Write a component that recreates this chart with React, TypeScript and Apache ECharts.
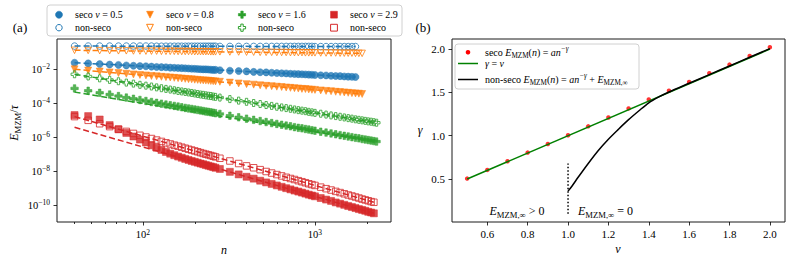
import React, { useEffect, useRef } from 'react';
import * as echarts from 'echarts';

const FF = 'Liberation Serif';
const BLUE = '#1f77b4';
const ORANGE = '#ff7f0e';
const GREEN = '#2ca02c';
const RED = '#d62728';

// ---------- panel (a): system sizes n ----------
const nValues = [40, 48, 56, 64, 72, 80, 88, 96, 104, 112, 120, 128, 136, 144, 152, 160, 168, 176, 184, 192,
  200, 208, 216, 224, 232, 240, 248, 256, 264, 280, 320, 360, 400, 440, 480, 520, 560, 600, 640, 680,
  720, 760, 800, 840, 880, 920, 960, 1000, 1080, 1160, 1240, 1320, 1400, 1480, 1560, 1640, 1720, 1800, 1880, 1960,
  2040, 2120, 2200, 2280];

// log10(E_MZM / tau)
const secoNu05 = [-1.63, -1.67, -1.71, -1.74, -1.76, -1.79, -1.81, -1.83, -1.84, -1.86,
  -1.88, -1.89, -1.90, -1.92, -1.93, -1.94, -1.95, -1.96, -1.97, -1.98,
  -1.99, -2.00, -2.01, -2.02, -2.02, -2.03, -2.04, -2.05, -2.05, -2.07,
  -2.10, -2.12, -2.14, -2.17, -2.19, -2.20, -2.22, -2.24, -2.25, -2.26,
  -2.28, -2.29, -2.30, -2.31, -2.32, -2.33, -2.34, -2.35, -2.37, -2.38,
  -2.40, -2.41, -2.42, -2.44, -2.45, -2.46, -2.47];
const nonSecoNu05 = [-0.65, -0.65, -0.65, -0.65, -0.65, -0.65, -0.65, -0.65, -0.65, -0.65,
  -0.66, -0.66, -0.66, -0.66, -0.66, -0.66, -0.66, -0.66, -0.66, -0.66,
  -0.66, -0.66, -0.66, -0.66, -0.66, -0.66, -0.66, -0.66, -0.66, -0.67,
  -0.67, -0.67, -0.67, -0.67, -0.67, -0.67, -0.67, -0.67, -0.67, -0.67,
  -0.67, -0.67, -0.67, -0.67, -0.67, -0.67, -0.67, -0.68, -0.68, -0.68,
  -0.68, -0.68, -0.68, -0.68, -0.68, -0.68, -0.68];
const secoNu08 = [-2.02, -2.09, -2.15, -2.20, -2.24, -2.28, -2.32, -2.35, -2.38, -2.41,
  -2.43, -2.46, -2.48, -2.50, -2.52, -2.54, -2.56, -2.58, -2.60, -2.61,
  -2.63, -2.64, -2.66, -2.67, -2.68, -2.69, -2.71, -2.72, -2.73, -2.75,
  -2.80, -2.85, -2.89, -2.92, -2.96, -2.99, -3.01, -3.04, -3.06, -3.09,
  -3.11, -3.13, -3.15, -3.17, -3.18, -3.20, -3.22, -3.23, -3.26, -3.29,
  -3.31, -3.34, -3.36, -3.38, -3.40, -3.42, -3.44, -3.45, -3.47];
const nonSecoNu08 = [-0.90, -0.91, -0.92, -0.92, -0.93, -0.93, -0.94, -0.94, -0.95, -0.95,
  -0.95, -0.96, -0.96, -0.96, -0.96, -0.97, -0.97, -0.97, -0.97, -0.97,
  -0.98, -0.98, -0.98, -0.98, -0.98, -0.98, -0.99, -0.99, -0.99, -0.99,
  -1.00, -1.00, -1.01, -1.01, -1.02, -1.02, -1.02, -1.03, -1.03, -1.03,
  -1.04, -1.04, -1.04, -1.04, -1.05, -1.05, -1.05, -1.05, -1.06, -1.06,
  -1.06, -1.06, -1.07, -1.07, -1.07, -1.07, -1.08, -1.08, -1.08];
const secoNu16 = [-3.14, -3.28, -3.40, -3.50, -3.59, -3.68, -3.75, -3.82, -3.88, -3.94,
  -3.99, -4.04, -4.09, -4.13, -4.17, -4.21, -4.25, -4.29, -4.32, -4.35,
  -4.38, -4.41, -4.44, -4.47, -4.50, -4.52, -4.55, -4.57, -4.60, -4.64,
  -4.75, -4.84, -4.92, -4.99, -5.06, -5.12, -5.18, -5.23, -5.28, -5.33,
  -5.37, -5.42, -5.46, -5.49, -5.53, -5.56, -5.60, -5.63, -5.69, -5.74,
  -5.79, -5.84, -5.89, -5.93, -5.97, -6.01, -6.05, -6.08, -6.12, -6.15,
  -6.18, -6.21, -6.24, -6.27];
const nonSecoNu16 = [-2.31, -2.44, -2.55, -2.64, -2.72, -2.80, -2.86, -2.93, -2.98, -3.03,
  -3.08, -3.13, -3.17, -3.21, -3.25, -3.29, -3.32, -3.35, -3.38, -3.41,
  -3.44, -3.47, -3.50, -3.52, -3.55, -3.57, -3.59, -3.62, -3.64, -3.68,
  -3.77, -3.86, -3.93, -4.00, -4.06, -4.12, -4.17, -4.22, -4.26, -4.30,
  -4.34, -4.38, -4.42, -4.45, -4.48, -4.52, -4.55, -4.58, -4.63, -4.68,
  -4.73, -4.77, -4.81, -4.85, -4.89, -4.92, -4.96, -4.99, -5.02, -5.05,
  -5.08, -5.10, -5.13, -5.16];
const secoNu29 = [-4.71, -4.77, -4.97, -5.30, -5.55, -5.76, -5.97, -6.15, -6.32, -6.49,
  -6.63, -6.76, -6.88, -6.98, -7.07, -7.15, -7.22, -7.29, -7.35, -7.41,
  -7.46, -7.51, -7.56, -7.60, -7.65, -7.69, -7.73, -7.77, -7.81, -7.88,
  -8.05, -8.20, -8.34, -8.45, -8.57, -8.67, -8.76, -8.85, -8.93, -9.01,
  -9.08, -9.15, -9.21, -9.27, -9.33, -9.39, -9.44, -9.49, -9.59, -9.68,
  -9.76, -9.85, -9.92, -9.99, -10.06, -10.12, -10.18, -10.24, -10.29, -10.34,
  -10.40, -10.44, -10.49];
const nonSecoNu29 = [-4.80, -5.02, -5.22, -5.39, -5.54, -5.67, -5.79, -5.90, -6.00, -6.09,
  -6.18, -6.26, -6.34, -6.41, -6.48, -6.54, -6.60, -6.66, -6.72, -6.77,
  -6.82, -6.87, -6.92, -6.97, -7.01, -7.05, -7.09, -7.13, -7.17, -7.25,
  -7.41, -7.56, -7.70, -7.81, -7.92, -8.03, -8.12, -8.21, -8.29, -8.37,
  -8.44, -8.50, -8.57, -8.63, -8.69, -8.75, -8.80, -8.85, -8.95, -9.04,
  -9.12, -9.20, -9.27, -9.34, -9.41, -9.47, -9.53, -9.59, -9.65, -9.70,
  -9.75, -9.80, -9.84];

// dashed fits: [n, log10(E/tau)] end points
const fitSeco05 = [[40, -1.63], [1720, -2.47]];
const fitNonSeco05 = [[40, -0.65], [1720, -0.68]];
const fitSeco08 = [[40, -2.02], [1880, -3.47]];
const fitNonSeco08 = [[40, -0.90], [1880, -1.08]];
const fitSeco16 = [[40, -3.36], [2280, -6.29]];
const fitNonSeco16 = [[40, -2.31], [2280, -5.16]];
const fitSeco29 = [[40, -5.43], [2200, -10.49]];
const fitNonSeco29 = [[40, -4.80], [2200, -9.84]];

const xMajorN = [100, 1000];
const xMinorN = [40, 50, 60, 70, 80, 90, 200, 300, 400, 500, 600, 700, 800, 900, 2000];
const yMajorExp = [-10, -8, -6, -4, -2];

// ---------- panel (b) ----------
const nuValues = [0.5, 0.6, 0.7, 0.8, 0.9, 1.0, 1.1, 1.2, 1.3, 1.4, 1.5, 1.6, 1.7, 1.8, 1.9, 2.0];
const gammaSeco = [0.505, 0.605, 0.705, 0.805, 0.905, 1.005, 1.108, 1.21, 1.315, 1.418, 1.518, 1.62, 1.72, 1.82, 1.92, 2.02];
const identityNu = [0.5, 2.0];
const nuNonSeco = [1.0, 1.02, 1.05, 1.1, 1.15, 1.2, 1.25, 1.3, 1.35, 1.4, 1.45, 1.5, 1.6, 1.7, 1.8, 1.9, 2.0];
const gammaNonSeco = [0.36, 0.42, 0.52, 0.68, 0.83, 0.96, 1.075, 1.185, 1.285, 1.38, 1.448, 1.505, 1.605, 1.705, 1.805, 1.905, 2.005];
const dividerNu = 1.0;
const dividerGamma = [0.1, 0.68];
const nuTicks = [0.6, 0.8, 1.0, 1.2, 1.4, 1.6, 1.8, 2.0];
const gammaTicks = [0.5, 1.0, 1.5, 2.0];

const PLUS = 'path://M1,0L2,0L2,1L3,1L3,2L2,2L2,3L1,3L1,2L0,2L0,1L1,1Z';

const tok = (size: number, extra: any = {}) => ({ fontFamily: FF, fontSize: size, color: '#000', fill: '#000', ...extra });

const tickRich = {
  b: tok(10.5, { lineHeight: 13 }),
  p: tok(7.5, { lineHeight: 7.5, verticalAlign: 'top' }),
};

const textRich = (s: number) => ({
  r: tok(s, { lineHeight: s + 4 }),
  i: tok(s, { lineHeight: s + 4, fontStyle: 'italic' }),
  sb: tok(s * 0.72, { lineHeight: s * 0.72, verticalAlign: 'bottom' }),
  sp: tok(s * 0.72, { lineHeight: s * 0.72, verticalAlign: 'top', fontStyle: 'italic' }),
});

function toXY(vals: number[]) {
  return vals.map((y, i) => [Math.log10(nValues[i]), y]);
}
function fitXY(f: number[][]) {
  return f.map(([n, y]) => [Math.log10(n), y]);
}

function markers(vals: number[], symbol: string, color: string, filled: boolean, size: number, rotate = 0) {
  return {
    type: 'scatter', xAxisIndex: 0, yAxisIndex: 0, silent: true,
    data: toXY(vals), symbol, symbolSize: size, symbolRotate: rotate,
    itemStyle: filled
      ? { color, borderColor: color, borderWidth: 0.6 }
      : { color: 'rgba(0,0,0,0)', borderColor: color, borderWidth: 1 },
  };
}
function dashed(f: number[][], color: string) {
  return {
    type: 'line', xAxisIndex: 0, yAxisIndex: 0, silent: true, data: fitXY(f), symbol: 'none',
    lineStyle: { color, width: 1.5, type: [6, 3] },
  };
}

function txt(x: number, y: number, text: string, size: number, align = 'left', rotation = 0) {
  return {
    type: 'text', x, y, rotation, silent: true,
    style: { text, rich: textRich(size), align, verticalAlign: 'middle', fill: '#000', fontFamily: FF, fontSize: size },
  };
}

function legendSymbol(kind: string, cx: number, cy: number, color: string, filled: boolean) {
  const st = filled ? { fill: color, stroke: color, lineWidth: 0.6 } : { fill: 'rgba(0,0,0,0)', stroke: color, lineWidth: 1 };
  const h = 3.4;
  if (kind === 'circle') return { type: 'circle', shape: { cx, cy, r: filled ? 3.5 : 3.2 }, style: st, silent: true };
  if (kind === 'tri') return { type: 'polygon', shape: { points: [[cx - h, cy - h], [cx + h, cy - h], [cx, cy + h]] }, style: st, silent: true };
  if (kind === 'rect') return { type: 'rect', shape: { x: cx - h, y: cy - h, width: 2 * h, height: 2 * h }, style: st, silent: true };
  const a = 3.6, b = 1.2;
  return {
    type: 'polygon', silent: true, style: st,
    shape: { points: [[cx - b, cy - a], [cx + b, cy - a], [cx + b, cy - b], [cx + a, cy - b], [cx + a, cy + b], [cx + b, cy + b], [cx + b, cy + a], [cx - b, cy + a], [cx - b, cy + b], [cx - a, cy + b], [cx - a, cy - b], [cx - b, cy - b]] },
  };
}

export default function App() {
  const ref = useRef<HTMLDivElement>(null);
  useEffect(() => {
    if (!ref.current) return;
    const chart = echarts.init(ref.current, undefined, { renderer: 'svg' });
    const axisCommon = {
      type: 'value', axisLine: { show: false }, splitLine: { show: false },
    };
    const tickStyle = { lineStyle: { color: '#000', width: 0.8 } };

    const legA = [
      { kind: 'circle', color: BLUE, label: '0.5', x: 59 },
      { kind: 'tri', color: ORANGE, label: '0.8', x: 150 },
      { kind: 'plus', color: GREEN, label: '1.6', x: 242 },
      { kind: 'rect', color: RED, label: '2.9', x: 334 },
    ];
    const graphic: any[] = [
      { type: 'rect', shape: { x: 47, y: 5, width: 355, height: 31, r: 3 }, style: { fill: 'rgba(255,255,255,0.85)', stroke: '#d0d0d0', lineWidth: 1 }, silent: true },
      { type: 'rect', shape: { x: 455, y: 44, width: 184, height: 45, r: 3 }, style: { fill: 'rgba(255,255,255,0.85)', stroke: '#d0d0d0', lineWidth: 1 }, silent: true },
    ];
    legA.forEach((it) => {
      graphic.push(legendSymbol(it.kind, it.x, 14.7, it.color, true));
      graphic.push(legendSymbol(it.kind, it.x, 27.7, it.color, false));
      graphic.push(txt(it.x + 16, 14.7, `{r|seco }{i|ν}{r| = ${it.label}}`, 10));
      graphic.push(txt(it.x + 16, 27.7, '{r|non-seco}', 10));
    });
    graphic.push({ type: 'circle', shape: { cx: 468, cy: 52.3, r: 2.3 }, style: { fill: '#ff0000' }, silent: true });
    graphic.push({ type: 'line', shape: { x1: 458, y1: 63.5, x2: 478, y2: 63.5 }, style: { stroke: '#008000', lineWidth: 1.5 }, silent: true });
    graphic.push({ type: 'line', shape: { x1: 458, y1: 79.5, x2: 478, y2: 79.5 }, style: { stroke: '#000', lineWidth: 1.5 }, silent: true });
    graphic.push(txt(485, 52.3, '{r|seco }{i|E}{sb|MZM}{r|(}{i|n}{r|) = }{i|an}{sp|−γ}', 10));
    graphic.push(txt(485, 63.5, '{i|γ}{r| = }{i|ν}', 10));
    graphic.push(txt(485, 79.5, '{r|non-seco }{i|E}{sb|MZM}{r|(}{i|n}{r|) = }{i|an}{sp|−γ}{r| + }{i|E}{sb|MZM,∞}', 10));

    graphic.push(txt(20, 27, '{r|(a)}', 13, 'center'));
    graphic.push(txt(423, 27, '{r|(b)}', 13, 'center'));
    graphic.push(txt(224, 250, '{i|n}', 12, 'center'));
    graphic.push(txt(618, 249, '{i|ν}', 12, 'center'));
    graphic.push(txt(420, 130, '{i|γ}', 12, 'center'));
    graphic.push(txt(14, 123, '{i|E}{sb|MZM}{r|/}{i|τ}', 12, 'center', Math.PI / 2));
    graphic.push(txt(517, 211, '{i|E}{sb|MZM,∞}{r| > 0}', 12, 'center'));
    graphic.push(txt(578, 211, '{i|E}{sb|MZM,∞}{r| = 0}', 12, 'left'));

    const option: any = {
      animation: false,
      backgroundColor: '#fff',
      textStyle: { fontFamily: FF },
      grid: [
        { left: 57, top: 39, width: 334, height: 183, show: true, borderColor: '#1a1a1a', borderWidth: 1 },
        { left: 452, top: 39, width: 333, height: 183, show: true, borderColor: '#1a1a1a', borderWidth: 1 },
      ],
      xAxis: [
        {
          ...axisCommon, gridIndex: 0, min: 1.5, max: 3.442, position: 'bottom',
          axisTick: { customValues: xMajorN.map(Math.log10), length: 3.5, ...tickStyle },
          axisLabel: { customValues: xMajorN.map(Math.log10), margin: 6, rich: tickRich, fontFamily: FF, formatter: (v: number) => `{b|10}{p|${Math.round(v)}}` },
        },
        {
          ...axisCommon, gridIndex: 0, min: 1.5, max: 3.442, position: 'bottom',
          axisTick: { customValues: xMinorN.map(Math.log10), length: 2, ...tickStyle },
          axisLabel: { show: false },
        },
        {
          ...axisCommon, gridIndex: 1, min: 0.425, max: 2.075, position: 'bottom',
          axisTick: { customValues: nuTicks, length: 3.5, ...tickStyle },
          axisLabel: { customValues: nuTicks, margin: 6, color: '#000', fontFamily: FF, fontSize: 11, formatter: (v: number) => v.toFixed(1) },
        },
      ],
      yAxis: [
        {
          ...axisCommon, gridIndex: 0, min: -11, max: -0.235,
          axisTick: { customValues: yMajorExp, length: 3.5, ...tickStyle },
          axisLabel: { customValues: yMajorExp, margin: 7, rich: tickRich, fontFamily: FF, formatter: (v: number) => `{b|10}{p|−${Math.round(-v)}}` },
        },
        {
          ...axisCommon, gridIndex: 1, min: 0.004, max: 2.116,
          axisTick: { customValues: gammaTicks, length: 3.5, ...tickStyle },
          axisLabel: { customValues: gammaTicks, margin: 7, color: '#000', fontFamily: FF, fontSize: 11, formatter: (v: number) => v.toFixed(1) },
        },
      ],
      series: [
        markers(secoNu05, 'circle', BLUE, true, 7),
        markers(nonSecoNu05, 'circle', BLUE, false, 6.5),
        dashed(fitSeco05, BLUE),
        dashed(fitNonSeco05, BLUE),
        markers(secoNu08, 'triangle', ORANGE, true, 7, 180),
        markers(nonSecoNu08, 'triangle', ORANGE, false, 6.5, 180),
        dashed(fitSeco08, ORANGE),
        dashed(fitNonSeco08, ORANGE),
        markers(secoNu16, PLUS, GREEN, true, 7.5),
        markers(nonSecoNu16, PLUS, GREEN, false, 7),
        dashed(fitSeco16, GREEN),
        dashed(fitNonSeco16, GREEN),
        markers(secoNu29, 'rect', RED, true, 7),
        markers(nonSecoNu29, 'rect', RED, false, 6.5),
        dashed(fitSeco29, RED),
        dashed(fitNonSeco29, RED),
        {
          type: 'scatter', xAxisIndex: 2, yAxisIndex: 1, silent: true, symbolSize: 4.5,
          data: nuValues.map((v, i) => [v, gammaSeco[i]]), itemStyle: { color: '#ff0000' },
        },
        {
          type: 'line', xAxisIndex: 2, yAxisIndex: 1, silent: true, symbol: 'none',
          data: identityNu.map((v) => [v, v]), lineStyle: { color: '#008000', width: 1.5 },
        },
        {
          type: 'line', xAxisIndex: 2, yAxisIndex: 1, silent: true, symbol: 'none', smooth: 0.3,
          data: nuNonSeco.map((v, i) => [v, gammaNonSeco[i]]), lineStyle: { color: '#000', width: 1.5 },
        },
        {
          type: 'line', xAxisIndex: 2, yAxisIndex: 1, silent: true, symbol: 'none',
          data: dividerGamma.map((g) => [dividerNu, g]), lineStyle: { color: '#000', width: 1.5, type: [1.5, 2] },
        },
      ],
      graphic,
    };
    chart.setOption(option);
    return () => chart.dispose();
  }, []);
  return <div ref={ref} style={{ position: 'fixed', left: 0, top: 0, width: 793, height: 263, background: '#fff' }} />;
}
